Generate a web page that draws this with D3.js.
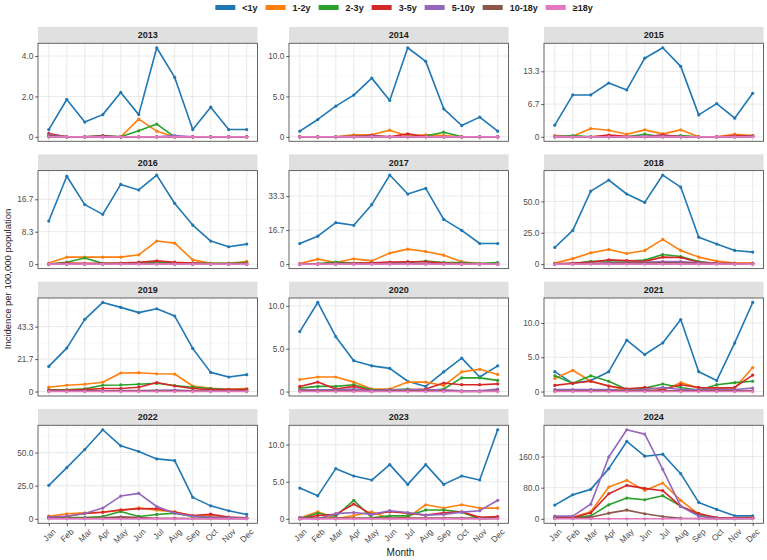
<!DOCTYPE html>
<html><head><meta charset="utf-8">
<script src="https://cdn.jsdelivr.net/npm/d3@7"></script>
<style>
body{margin:0;background:#fff}
svg{display:block}
text{font-family:"Liberation Sans",Arial,Helvetica,sans-serif}
</style>
</head><body>
<svg id="chart" width="767" height="560"></svg>
<script>
const months = ["Jan","Feb","Mar","Apr","May","Jun","Jul","Aug","Sep","Oct","Nov","Dec"];
const ageGroups = ["<1y","1-2y","2-3y","3-5y","5-10y","10-18y","≥18y"];
const groupColors = ["#1f77b4","#ff7f0e","#2ca02c","#d62728","#9467bd","#8c564b","#e377c2"];
const years = [2013,2014,2015,2016,2017,2018,2019,2020,2021,2022,2023,2024];

// each year: rows follow ageGroups order, columns follow months
const v2013 = [
  [0.36,1.85,0.73,1.1,2.2,1.1,4.41,2.94,0.36,1.47,0.36,0.36],
  [0,0,0,0,0,0.88,0.28,0,0,0,0,0],
  [0,0,0,0.05,0,0.3,0.63,0,0,0,0,0],
  [0.17,0,0,0,0,0,0,0,0,0,0,0],
  [0.1,0,0,0,0,0,0,0.06,0,0,0,0],
  [0.05,0,0,0.06,0,0,0,0,0,0,0,0],
  [0,0,0,0,0,0,0,0,0,0,0,0]];
const v2014 = [
  [0.7,2.15,3.8,5.17,7.27,4.5,11.03,9.34,3.47,1.4,2.44,0.7],
  [0,0,0,0.25,0.25,0.83,0.1,0.25,0.15,0,0,0],
  [0,0,0,0,0,0,0,0.1,0.58,0,0,0],
  [0,0,0,0,0.2,0,0.37,0.05,0,0,0,0],
  [0,0,0,0,0.1,0,0,0,0,0,0,0],
  [0,0,0,0.1,0,0,0,0,0,0,0,0],
  [0,0,0,0,0,0,0,0,0,0,0,0]];
const v2015 = [
  [2.37,8.53,8.53,10.96,9.54,16.0,18.13,14.34,4.47,6.77,3.79,8.86],
  [0.27,0.1,1.7,1.35,0.54,1.42,0.6,1.42,0,0,0.54,0.27],
  [0,0.27,0,0,0,0.54,0,0.27,0,0,0,0.15],
  [0,0,0,0.35,0.1,0,0.4,0,0,0,0.2,0.2],
  [0.1,0,0,0,0,0.1,0.15,0,0,0,0,0.1],
  [0,0,0,0,0,0,0,0,0,0,0,0.05],
  [0,0,0,0,0,0,0,0,0,0,0,0]];
const v2016 = [
  [11.08,22.6,15.3,12.8,20.5,19.07,22.9,15.6,10.05,5.93,4.47,5.15],
  [0.3,1.8,1.8,1.8,1.8,2.4,5.93,5.4,1.1,0.2,0.2,0.7],
  [0,0.5,1.6,0.2,0.2,0.3,0.5,0.3,0.3,0.2,0.2,0.4],
  [0,0.3,0.2,0.2,0.3,0.5,0.85,0.5,0.3,0.1,0.1,0.2],
  [0,0,0,0.1,0.1,0.1,0.1,0.1,0,0,0,0],
  [0,0,0,0,0.1,0.2,0.1,0,0,0,0,0],
  [0,0,0,0,0,0,0,0,0,0,0,0]];
const v2017 = [
  [10.1,13.7,20.3,19.0,29.1,43.6,34.3,37.1,21.9,16.5,10.1,10.1],
  [0.3,2.45,0.8,2.6,1.6,5.4,7.35,6.2,4.4,1.2,0.3,0.3],
  [0,0.3,1.0,0.5,0.5,0.6,0.8,1.5,0.8,0.8,0.3,0.8],
  [0,0.2,0.3,0.4,0.6,1.0,1.2,1.2,0.5,0.3,0.2,0.2],
  [0,0,0.1,0.1,0.2,0.3,0.3,0.3,0.2,0.1,0,0],
  [0,0,0,0.1,0.2,0.2,0.2,0.1,0.1,0,0,0],
  [0,0,0,0,0,0,0,0,0,0,0,0]];
const v2018 = [
  [13.3,26.9,58.2,67.0,55.9,49.2,71.0,61.4,21.5,16.0,10.9,9.6],
  [0.8,4.4,9.0,11.7,8.5,10.9,19.7,10.9,5.6,2.4,0.8,0.8],
  [0.2,0.5,2.2,2.5,2.5,3.2,7.7,6.1,2.0,0.5,0.3,0.3],
  [0.3,0.8,1.5,3.4,2.8,2.2,5.6,5.3,1.5,0.8,0.5,0.5],
  [0.2,0.3,0.5,1.0,1.0,1.5,2.0,2.0,1.0,0.5,0.3,0.2],
  [0,0.2,0.5,0.5,0.8,0.8,1.0,1.0,0.5,0.3,0.1,0.1],
  [0,0,0,0,0,0,0,0,0,0,0,0]];
const v2019 = [
  [16.8,29.0,48.2,59.5,56.2,52.7,55.3,50.4,28.8,12.8,9.7,11.3],
  [2.9,4.2,4.9,6.2,12.4,12.6,11.9,11.7,3.7,2.2,1.5,2.0],
  [1.1,1.1,1.8,4.2,4.4,4.9,5.5,4.0,2.9,2.0,1.3,1.3],
  [0.9,0.9,1.3,2.0,2.0,2.9,6.0,3.7,2.0,1.3,1.3,1.3],
  [0.3,0.3,0.5,0.5,0.6,0.6,0.8,1.0,0.5,0.3,0.3,0.3],
  [0.2,0.2,0.3,0.3,0.4,0.4,0.5,0.5,0.3,0.2,0.2,0.2],
  [0,0,0,0,0,0,0,0,0,0,0,0]];
const v2020 = [
  [7.0,10.4,6.4,3.6,3.0,2.7,1.2,0.6,2.3,3.9,1.7,3.0],
  [1.4,1.7,1.7,1.1,0.3,0.3,1.1,1.1,0.7,2.3,2.6,2.0],
  [0.4,0.6,0.6,0.8,0.2,0.2,0.3,0.1,0.3,1.6,1.6,1.3],
  [0.6,1.1,0.3,0.6,0.1,0.2,0.2,0.3,1.0,0.8,0.8,0.9],
  [0.2,0.2,0.2,0.3,0.1,0.2,0.2,0.2,0.2,0.1,0.1,0.3],
  [0.1,0.1,0.1,0.1,0,0.1,0.1,0.1,0.1,0,0,0.1],
  [0,0,0,0,0,0,0,0,0,0,0,0]];
const v2021 = [
  [2.9,1.2,1.6,2.9,7.5,5.4,7.1,10.5,2.9,1.6,7.1,13.0],
  [1.9,3.1,1.5,0.8,0.2,0.2,0.2,1.3,0.5,0.5,0.5,3.5],
  [2.3,1.2,2.3,1.5,0.3,0.5,1.1,0.6,0.2,1.0,1.3,1.5],
  [0.9,1.2,1.5,0.8,0.4,0.6,0.3,1.0,0.6,0.5,0.6,2.4],
  [0.3,0.3,0.3,0.3,0.2,0.3,0.6,0.3,0.3,0.3,0.3,0.5],
  [0.1,0.1,0.1,0.1,0.1,0.1,0.1,0.1,0.1,0.1,0.1,0.1],
  [0,0,0,0,0,0,0,0,0,0,0,0]];
const v2022 = [
  [25.3,38.6,52.3,67.2,55.1,50.8,45.2,43.9,16.2,9.8,6.1,3.3],
  [2.0,3.8,4.5,5.0,6.3,8.3,6.6,5.3,2.3,2.5,1.0,0.8],
  [1.3,1.0,1.0,1.8,5.6,1.8,3.3,4.3,1.8,0.8,0.5,0.5],
  [1.3,2.0,4.0,5.0,6.8,7.6,7.8,5.0,2.5,3.5,1.3,0.8],
  [1.3,2.0,4.0,8.1,17.2,19.2,9.3,4.3,2.0,1.3,0.8,0.8],
  [0.5,0.5,0.5,0.8,1.5,1.0,0.5,0.5,0.3,0.3,0.2,0.2],
  [0,0,0,0,0,0,0,0,0,0,0,0]];
const v2023 = [
  [4.14,3.1,6.76,5.77,5.23,7.3,4.64,7.3,4.64,5.77,5.23,12.0],
  [0.1,0.95,0,0.45,0.95,0,0.2,1.9,1.45,1.9,1.45,1.45],
  [0,0.75,0.35,2.5,0.15,0.4,0.4,1.2,1.2,0.9,0,0.1],
  [0,0.45,0.6,2.0,0.6,0.95,0.75,0.5,0.8,0.95,0.2,0.3],
  [0.2,0,0.7,0.85,0.6,1.1,0.85,0.5,0.6,0.9,1.1,2.5],
  [0.1,0.1,0.1,0.1,0.1,0.1,0.1,0.1,0.1,0.1,0.1,0.1],
  [0,0,0,0,0,0,0,0,0,0,0,0]];
const v2024 = [
  [35.3,61.9,75.7,129,198.7,160.9,166,116,42.2,24.1,7.7,7.7],
  [4.3,4.3,18,81.7,98.9,73,92,47.3,12,2.6,2.6,3.4],
  [3.4,3.4,7.7,36.1,53.3,49,59.4,32.7,10.3,2.6,2.6,2.6],
  [2.6,2.6,15.5,64.5,86,78.3,72.3,31.8,13.8,2.6,2.6,3.4],
  [6.9,6.9,37.8,159,228.8,217.6,127.3,31.8,6.9,1.7,1.7,1.7],
  [1.7,1.7,4.3,14.6,22.4,12.9,6.0,1.7,0.9,0.5,0.5,0.5],
  [0.3,0.3,0.3,0.3,0.3,0.3,0.3,0.3,0.3,0.3,0.3,0.3]];
const yearValues = [v2013,v2014,v2015,v2016,v2017,v2018,v2019,v2020,v2021,v2022,v2023,v2024];

const yTickValues = [
  [0,2,4],[0,5,10],[0,6.667,13.333],
  [0,8.333,16.667],[0,16.667,33.333],[0,25,50],
  [0,21.667,43.333],[0,5,10],[0,5,10],
  [0,25,50],[0,5,10],[0,80,160]];

const svg = d3.select("#chart");
svg.append("rect").attr("width",767).attr("height",560).attr("fill","#fff");

const colLeft = [38, 289, 544];
const panelW = 219.5;
const stripTop = [27, 154.3, 281.7, 409];
const stripH = 16.3;
const plotH = 98;
const tickFmt = d => d === 0 ? "0" : d3.format(".1f")(d);

years.forEach((yr, i) => {
  const col = i % 3, row = Math.floor(i / 3);
  const x0 = colLeft[col], sTop = stripTop[row];
  const pTop = sTop + stripH, pBot = pTop + plotH;
  const vals = yearValues[i];
  const vmax = d3.max(vals.flat());
  const x = d3.scalePoint().domain(months).range([x0, x0 + panelW]).padding(0.6);
  const y = d3.scaleLinear().domain([-0.05 * vmax, 1.05 * vmax]).range([pBot, pTop]);
  const g = svg.append("g");

  // strip
  g.append("rect").attr("x", x0).attr("y", sTop).attr("width", panelW).attr("height", stripH)
    .attr("fill", "#e0e0e0");
  g.append("text").attr("x", x0 + panelW / 2).attr("y", sTop + stripH / 2 + 3.2)
    .attr("text-anchor", "middle").attr("font-size", 9).attr("font-weight", "bold")
    .attr("fill", "#1a1a1a").text(yr);

  // panel bg
  g.append("rect").attr("x", x0).attr("y", pTop).attr("width", panelW).attr("height", plotH).attr("fill", "#fff");

  // minor grid
  const tv = yTickValues[i];
  const step = tv[1] - tv[0];
  const minors = [];
  for (let k = 0; k < tv.length; k++) minors.push(tv[k] + step / 2);
  minors.push(tv[0] - step / 2);
  minors.filter(m => y(m) > pTop && y(m) < pBot).forEach(m => {
    g.append("line").attr("x1", x0).attr("x2", x0 + panelW).attr("y1", y(m)).attr("y2", y(m))
      .attr("stroke", "#f2f2f2").attr("stroke-width", 0.5);
  });
  tv.forEach(t => {
    g.append("line").attr("x1", x0).attr("x2", x0 + panelW).attr("y1", y(t)).attr("y2", y(t))
      .attr("stroke", "#e6e6e6").attr("stroke-width", 0.9);
  });
  months.forEach(m => {
    g.append("line").attr("x1", x(m)).attr("x2", x(m)).attr("y1", pTop).attr("y2", pBot)
      .attr("stroke", "#e6e6e6").attr("stroke-width", 0.9);
  });

  // series
  const line = d3.line().x((d, j) => x(months[j])).y(d => y(d));
  vals.forEach((series, s) => {
    g.append("path").datum(series).attr("d", line).attr("fill", "none")
      .attr("stroke", groupColors[s]).attr("stroke-width", 1.6).attr("stroke-linejoin", "round");
    g.selectAll(null).data(series).enter().append("circle")
      .attr("cx", (d, j) => x(months[j])).attr("cy", d => y(d)).attr("r", 1.6)
      .attr("fill", groupColors[s]);
  });

  // border
  g.append("rect").attr("x", x0).attr("y", pTop).attr("width", panelW).attr("height", plotH)
    .attr("fill", "none").attr("stroke", "#555").attr("stroke-width", 0.9);

  // y axis
  const ya = g.append("g").attr("transform", `translate(${x0},0)`)
    .call(d3.axisLeft(y).tickValues(tv).tickSize(2.8).tickPadding(1.8).tickFormat(tickFmt));
  ya.select(".domain").remove();
  ya.selectAll("line").attr("stroke", "#333").attr("stroke-width", 0.8);
  ya.selectAll("text").attr("font-size", 8.3).attr("fill", "#4d4d4d")
    .attr("font-family", '"Liberation Sans",Arial,sans-serif');

  // x axis on bottom row
  if (row === 3) {
    const xa = g.append("g").attr("transform", `translate(0,${pBot})`)
      .call(d3.axisBottom(x).tickSize(2.8).tickSizeOuter(0));
    xa.select(".domain").remove();
    xa.selectAll("line").attr("stroke", "#333").attr("stroke-width", 0.8);
    xa.selectAll("text").attr("font-size", 8.5).attr("fill", "#4d4d4d")
      .attr("font-family", '"Liberation Sans",Arial,sans-serif')
      .attr("text-anchor", "end").attr("dy", null).attr("y", null)
      .attr("transform", "translate(2.5,4.5) rotate(-45)")
      .attr("dominant-baseline", "hanging");
  }
});

// axis titles
svg.append("text").attr("x", 400.5).attr("y", 556).attr("text-anchor", "middle")
  .attr("font-size", 10).attr("fill", "#1a1a1a").text("Month");
svg.append("text").attr("transform", "translate(11,279) rotate(-90)").attr("text-anchor", "middle")
  .attr("font-size", 9.5).attr("fill", "#1a1a1a").text("Incidence per 100,000 population");

// legend
const leg = svg.append("g");
const items = [];
ageGroups.forEach((a, i) => {
  const it = leg.append("g");
  it.append("rect").attr("x", 0).attr("y", -2.5).attr("width", 20).attr("height", 5).attr("fill", groupColors[i]);
  const t = it.append("text").attr("x", 27).attr("y", 3.2).attr("font-size", 9).attr("font-weight", "bold")
    .attr("fill", "#1a1a1a").text(a);
  const w = 27 + t.node().getComputedTextLength();
  items.push({it, w});
});
const gapL = 8;
const totalW = d3.sum(items, d => d.w) + gapL * (items.length - 1);
let cx = 404 - totalW / 2;
items.forEach(d => { d.it.attr("transform", `translate(${cx},7.5)`); cx += d.w + gapL; });
</script>
</body></html>
